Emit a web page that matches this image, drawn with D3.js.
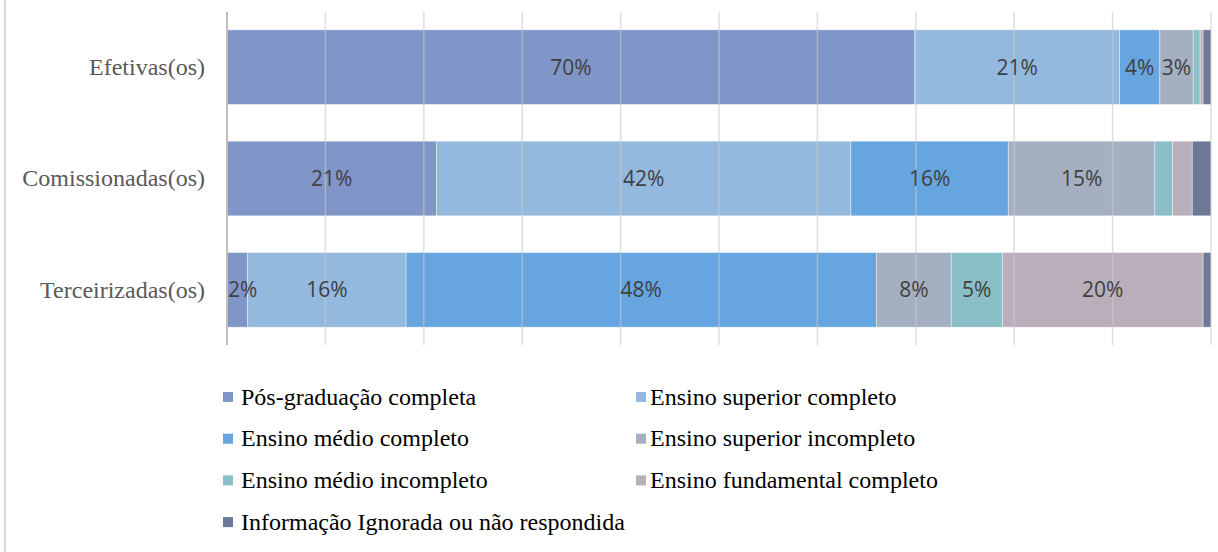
<!DOCTYPE html>
<html>
<head>
<meta charset="utf-8">
<script src="https://cdn.jsdelivr.net/npm/d3@7"></script>
<style>
  body { margin: 0; background: #fff; }
  svg { display: block; }
</style>
</head>
<body>
<svg width="1218" height="552"></svg>
<script>
var categories = ["Efetivas(os)", "Comissionadas(os)", "Terceirizadas(os)"];

var seriesNames = [
    "Pós-graduação completa",
    "Ensino superior completo",
    "Ensino médio completo",
    "Ensino superior incompleto",
    "Ensino médio incompleto",
    "Ensino fundamental completo",
    "Informação Ignorada ou não respondida"
];

var seriesColors = ["#8096c8", "#94b9df", "#67a5e0", "#a5afc2", "#8bbfc8", "#bbaebb", "#6b7896"];

// percent per category, in the order of seriesNames
var posGraduacao       = [69.9, 21.3,  2.1];
var superiorCompleto   = [20.8, 42.1, 16.1];
var medioCompleto      = [ 4.1, 16.0, 47.8];
var superiorIncompleto = [ 3.4, 14.9,  7.6];
var medioIncompleto    = [ 0.7,  1.8,  5.2];
var fundamental        = [ 0.3,  2.0, 20.4];
var ignorada           = [ 0.8,  1.9,  0.8];

var ticks = [0, 10, 20, 30, 40, 50, 60, 70, 80, 90, 100];

var seriesValues = [posGraduacao, superiorCompleto, medioCompleto, superiorIncompleto,
                    medioIncompleto, fundamental, ignorada];

var svg = d3.select("svg");

// light frame line on the left
svg.append("line")
    .attr("x1", 5).attr("x2", 5).attr("y1", 0).attr("y2", 552)
    .attr("stroke", "#d9d9d9").attr("stroke-width", 2);

var x = d3.scaleLinear().domain([0, 100]).range([227, 1211]);
var y = d3.scaleBand().domain(categories).range([12, 345]).paddingInner(0.33).paddingOuter(0.16);

var rows = categories.map(function(c, i) {
    var row = { cat: c };
    seriesNames.forEach(function(s, j) { row[s] = seriesValues[j][i]; });
    return row;
});

var stacked = d3.stack().keys(seriesNames)(rows);

// bars
var layers = svg.append("g").selectAll("g")
    .data(stacked)
    .join("g")
    .attr("fill", function(d, i) { return seriesColors[i]; });

layers.selectAll("rect")
    .data(function(d) { return d; })
    .join("rect")
    .attr("x", function(d) { return x(d[0]); })
    .attr("width", function(d) { return x(d[1]) - x(d[0]); })
    .attr("y", function(d) { return y(d.data.cat); })
    .attr("height", y.bandwidth())
    .attr("stroke", "#ffffff")
    .attr("stroke-opacity", 0.5)
    .attr("stroke-width", 0.8);

// gridlines (drawn over bars, faint)
svg.append("g").selectAll("line")
    .data(ticks.slice(1))
    .join("line")
    .attr("x1", function(d) { return x(d); })
    .attr("x2", function(d) { return x(d); })
    .attr("y1", 12).attr("y2", 345)
    .attr("stroke", "#c8c8c8")
    .attr("stroke-opacity", 0.6)
    .attr("stroke-width", 1.5);

// axis line
svg.append("line")
    .attr("x1", x(0)).attr("x2", x(0)).attr("y1", 12).attr("y2", 345)
    .attr("stroke", "#bfbfbf").attr("stroke-width", 2);

// data labels, on top of all bars; kept inside the plot on the left
var labelData = [];
stacked.forEach(function(layer) {
    layer.forEach(function(p) {
        if (p[1] - p[0] >= 2.05) labelData.push(p);
    });
});

svg.append("g").selectAll("text")
    .data(labelData)
    .join("text")
    .attr("y", function(d) { return y(d.data.cat) + y.bandwidth() / 2; })
    .attr("dy", "0.36em")
    .attr("text-anchor", "middle")
    .attr("fill", "#404040")
    .style("font-family", "'Open Sans', sans-serif")
    .style("font-size", "21px")
    .text(function(d) { return Math.round(d[1] - d[0]) + "%"; })
    .attr("x", function(d) {
        var cx = (x(d[0]) + x(d[1])) / 2,
            half = this.getComputedTextLength() / 2;
        return Math.max(cx, x(0) + 1 + half);
    });

// category labels
svg.append("g").selectAll("text")
    .data(categories)
    .join("text")
    .attr("x", 205)
    .attr("y", function(d) { return y(d) + y.bandwidth() / 2; })
    .attr("dy", "0.32em")
    .attr("text-anchor", "end")
    .attr("fill", "#595959")
    .style("font-family", "'Liberation Serif', serif")
    .style("font-size", "24px")
    .text(function(d) { return d; });

// legend
var legendCols = [{ box: 223, text: 241 }, { box: 636, text: 650 }];

var legend = svg.append("g").selectAll("g")
    .data(seriesNames)
    .join("g")
    .attr("transform", function(d, i) {
        return "translate(0," + (397 + Math.floor(i / 2) * 41.7) + ")";
    });

legend.append("rect")
    .attr("x", function(d, i) { return legendCols[i % 2].box; })
    .attr("y", -5)
    .attr("width", 10).attr("height", 10)
    .attr("fill", function(d, i) { return seriesColors[i]; });

legend.append("text")
    .attr("x", function(d, i) { return legendCols[i % 2].text; })
    .attr("dy", "0.32em")
    .attr("fill", "#000")
    .style("font-family", "'Liberation Serif', serif")
    .style("font-size", "24px")
    .text(function(d) { return d; });
</script>
</body>
</html>
